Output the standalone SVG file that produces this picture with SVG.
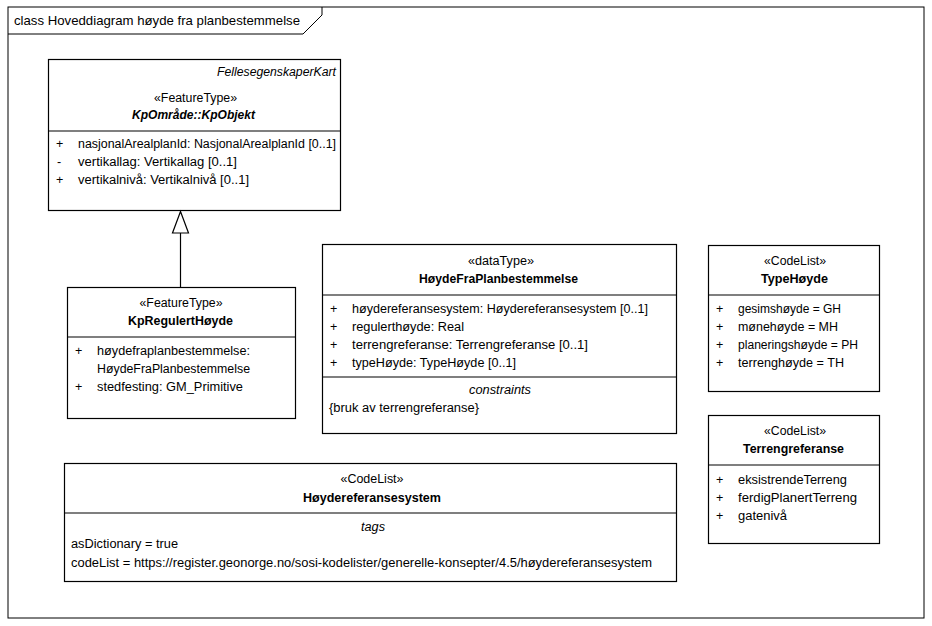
<svg xmlns="http://www.w3.org/2000/svg" width="932" height="626" viewBox="0 0 932 626">
<style>
text{font-family:"Liberation Sans",Arial,sans-serif;font-size:12.5px;fill:#000}
.c{text-anchor:middle}
.b{font-weight:bold}
.i{font-style:italic}
.box{fill:#fff;stroke:#000;stroke-width:1.2}
.ln{stroke:#000;stroke-width:1.2;fill:none}
</style>
<rect x="0" y="0" width="932" height="626" fill="#fff"/>
<g id="frame">
<rect x="8" y="7" width="916" height="611" fill="none" stroke="#000" stroke-width="1"/>
<path d="M8 34 H303 L322 15 V7" fill="none" stroke="#000" stroke-width="1"/>
<text x="14" y="25" style="font-size:13.5px" textLength="286" lengthAdjust="spacingAndGlyphs">class Hoveddiagram høyde fra planbestemmelse</text>
</g>
<g id="KpObjekt">
<rect class="box" x="48.5" y="59.5" width="292" height="151"/>
<line class="ln" x1="48.5" y1="131" x2="340.5" y2="131"/>
<text x="336" y="76" text-anchor="end" class="i" textLength="119" lengthAdjust="spacingAndGlyphs">FellesegenskaperKart</text>
<text x="195.5" y="102" class="c" textLength="83" lengthAdjust="spacingAndGlyphs">«FeatureType»</text>
<text x="193.5" y="119" class="c b i" textLength="123" lengthAdjust="spacingAndGlyphs">KpOmråde::KpObjekt</text>
<text x="56" y="148">+</text><text x="78" y="148" textLength="258" lengthAdjust="spacingAndGlyphs">nasjonalArealplanId: NasjonalArealplanId [0..1]</text>
<text x="57" y="166">-</text><text x="78" y="166" textLength="159" lengthAdjust="spacingAndGlyphs">vertikallag: Vertikallag [0..1]</text>
<text x="56" y="184">+</text><text x="78" y="184" textLength="171" lengthAdjust="spacingAndGlyphs">vertikalnivå: Vertikalnivå [0..1]</text>
</g>
<g id="KpRegulertHoyde">
<rect class="box" x="67.5" y="287.5" width="228" height="131"/>
<line class="ln" x1="67.5" y1="337" x2="295.5" y2="337"/>
<text x="181" y="307" class="c" textLength="83" lengthAdjust="spacingAndGlyphs">«FeatureType»</text>
<text x="180.5" y="325" class="c b" textLength="105" lengthAdjust="spacingAndGlyphs">KpRegulertHøyde</text>
<text x="75" y="355">+</text><text x="97" y="355" textLength="153" lengthAdjust="spacingAndGlyphs">høydefraplanbestemmelse:</text>
<text x="97" y="373" textLength="153" lengthAdjust="spacingAndGlyphs">HøydeFraPlanbestemmelse</text>
<text x="75" y="391">+</text><text x="97" y="391" textLength="146" lengthAdjust="spacingAndGlyphs">stedfesting: GM_Primitive</text>
</g>
<g id="HoydeFraPlanbestemmelse">
<rect class="box" x="322.5" y="244.5" width="354" height="189"/>
<line class="ln" x1="322.5" y1="295" x2="676.5" y2="295"/>
<line class="ln" x1="322.5" y1="377" x2="676.5" y2="377"/>
<text x="501" y="265" class="c" textLength="66" lengthAdjust="spacingAndGlyphs">«dataType»</text>
<text x="498.5" y="283" class="c b" textLength="159" lengthAdjust="spacingAndGlyphs">HøydeFraPlanbestemmelse</text>
<text x="330" y="313">+</text><text x="352" y="313" textLength="296" lengthAdjust="spacingAndGlyphs">høydereferansesystem: Høydereferansesystem [0..1]</text>
<text x="330" y="331">+</text><text x="352" y="331" textLength="112" lengthAdjust="spacingAndGlyphs">regulerthøyde: Real</text>
<text x="330" y="349">+</text><text x="352" y="349" textLength="236" lengthAdjust="spacingAndGlyphs">terrengreferanse: Terrengreferanse [0..1]</text>
<text x="330" y="367">+</text><text x="352" y="367" textLength="164" lengthAdjust="spacingAndGlyphs">typeHøyde: TypeHøyde [0..1]</text>
<text x="500" y="394" class="c i" textLength="62" lengthAdjust="spacingAndGlyphs">constraints</text>
<text x="329" y="412" textLength="150" lengthAdjust="spacingAndGlyphs">{bruk av terrengreferanse}</text>
</g>
<g id="TypeHoyde">
<rect class="box" x="708.5" y="245.5" width="171" height="146"/>
<line class="ln" x1="708.5" y1="295" x2="879.5" y2="295"/>
<text x="795" y="265" class="c" textLength="62" lengthAdjust="spacingAndGlyphs">«CodeList»</text>
<text x="794.5" y="283" class="c b" textLength="67" lengthAdjust="spacingAndGlyphs">TypeHøyde</text>
<text x="716" y="313">+</text><text x="738" y="313" textLength="103" lengthAdjust="spacingAndGlyphs">gesimshøyde = GH</text>
<text x="716" y="331">+</text><text x="738" y="331" textLength="100" lengthAdjust="spacingAndGlyphs">mønehøyde = MH</text>
<text x="716" y="349">+</text><text x="738" y="349" textLength="120" lengthAdjust="spacingAndGlyphs">planeringshøyde = PH</text>
<text x="716" y="367">+</text><text x="738" y="367" textLength="106" lengthAdjust="spacingAndGlyphs">terrenghøyde = TH</text>
</g>
<g id="Terrengreferanse">
<rect class="box" x="708.5" y="415.5" width="171" height="128"/>
<line class="ln" x1="708.5" y1="465" x2="879.5" y2="465"/>
<text x="795" y="435" class="c" textLength="62" lengthAdjust="spacingAndGlyphs">«CodeList»</text>
<text x="793.5" y="453" class="c b" textLength="101" lengthAdjust="spacingAndGlyphs">Terrengreferanse</text>
<text x="716" y="484">+</text><text x="738" y="484" textLength="109" lengthAdjust="spacingAndGlyphs">eksistrendeTerreng</text>
<text x="716" y="502">+</text><text x="738" y="502" textLength="119" lengthAdjust="spacingAndGlyphs">ferdigPlanertTerreng</text>
<text x="716" y="520">+</text><text x="738" y="520" textLength="49" lengthAdjust="spacingAndGlyphs">gatenivå</text>
</g>
<g id="Hoydereferansesystem">
<rect class="box" x="64.5" y="463.5" width="612" height="118"/>
<line class="ln" x1="64.5" y1="513" x2="676.5" y2="513"/>
<text x="372" y="483" class="c" textLength="63" lengthAdjust="spacingAndGlyphs">«CodeList»</text>
<text x="372" y="502" class="c b" textLength="138" lengthAdjust="spacingAndGlyphs">Høydereferansesystem</text>
<text x="373" y="531" class="c i" textLength="24" lengthAdjust="spacingAndGlyphs">tags</text>
<text x="71" y="548" textLength="107" lengthAdjust="spacingAndGlyphs">asDictionary = true</text>
<text x="71" y="567" textLength="581" lengthAdjust="spacingAndGlyphs">codeList = https://register.geonorge.no/sosi-kodelister/generelle-konsepter/4.5/høydereferansesystem</text>
</g>
<g id="connectors">
<line class="ln" x1="180.5" y1="233" x2="180.5" y2="287.5"/>
<polygon points="180.5,211.5 172.5,233 188.5,233" fill="#fff" stroke="#000" stroke-width="1.2"/>
</g>
</svg>
